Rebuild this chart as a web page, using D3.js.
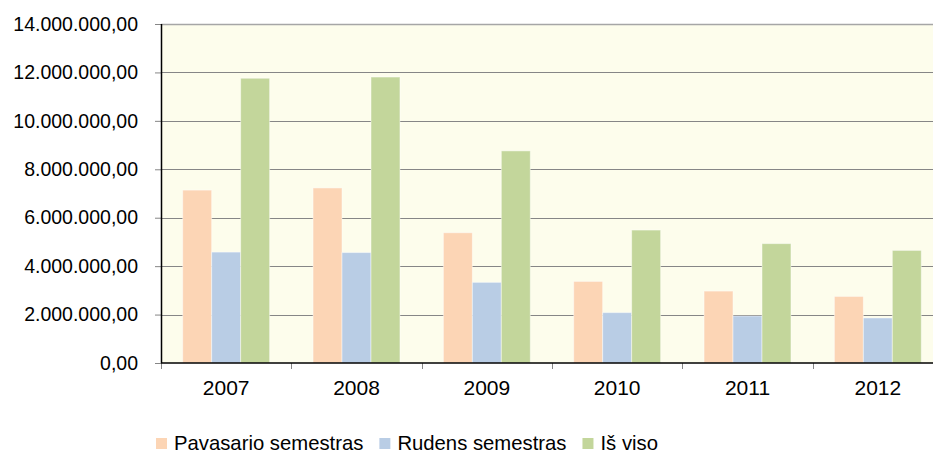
<!DOCTYPE html>
<html>
<head>
<meta charset="utf-8">
<script src="https://cdn.jsdelivr.net/npm/d3@7"></script>
<style>
  html, body { margin: 0; padding: 0; background: #fff; overflow: hidden; }
  svg { display: block; font-family: "Liberation Sans", Arial, sans-serif; }
</style>
</head>
<body>
<div id="chart"></div>
<script>
var years = ["2007", "2008", "2009", "2010", "2011", "2012"];
var seriesNames = ["Pavasario semestras", "Rudens semestras", "Iš viso"];
var pavasario = [7140000, 7230000, 5380000, 3370000, 2970000, 2750000];
var rudens = [4580000, 4560000, 3330000, 2080000, 1940000, 1860000];
var isViso = [11760000, 11810000, 8760000, 5490000, 4930000, 4650000];
var yTicks = [0, 2000000, 4000000, 6000000, 8000000, 10000000, 12000000, 14000000];
var colors = ["#fcd5b5", "#b9cde5", "#c3d69b"];

var W = 933, H = 455,
    margin = {top: 24, right: -10, bottom: 92, left: 161},
    width = W - margin.left - margin.right,
    height = H - margin.top - margin.bottom;

var svg = d3.select("#chart").append("svg")
    .attr("width", W)
    .attr("height", H);

var g = svg.append("g")
    .attr("transform", "translate(" + margin.left + "," + margin.top + ")");

var x0 = d3.scaleBand()
    .domain(years)
    .range([0, width])
    .paddingInner(0.333)
    .paddingOuter(0.1665);

var x1 = d3.scaleBand()
    .domain(d3.range(3))
    .range([0, x0.bandwidth()]);

var y = d3.scaleLinear()
    .domain([0, 14000000])
    .range([height, 0]);

// number format like 12.000.000,00
var fmt = d3.formatLocale({decimal: ",", thousands: ".", grouping: [3], currency: ["", ""]}).format(",.2f");

g.append("rect")
    .attr("width", width)
    .attr("height", height)
    .attr("fill", "#fdfdec");

// gridlines
g.selectAll(".grid")
    .data(yTicks.slice(1))
    .enter().append("line")
    .attr("x1", 0)
    .attr("x2", width)
    .attr("y1", function(d) { return Math.round(y(d)) + 0.5; })
    .attr("y2", function(d) { return Math.round(y(d)) + 0.5; })
    .attr("stroke", function(d, i) { return d === 14000000 ? "#a6a6a6" : "#868686"; })
    .attr("stroke-width", function(d) { return d === 14000000 ? 1.5 : 1; });

var all = [pavasario, rudens, isViso];

var groups = g.selectAll(".year")
    .data(years)
    .enter().append("g")
    .attr("transform", function(d) { return "translate(" + x0(d) + ",0)"; });

groups.selectAll("rect")
    .data(function(d, i) { return all.map(function(s, k) { return {k: k, v: s[i]}; }); })
    .enter().append("rect")
    .attr("x", function(d) { return x1(d.k); })
    .attr("width", x1.bandwidth())
    .attr("y", function(d) { return y(d.v); })
    .attr("height", function(d) { return height - y(d.v); })
    .attr("fill", function(d) { return colors[d.k]; })
    .attr("stroke", "rgba(255,255,255,0.45)")
    .attr("stroke-width", 1);

// y axis
var yAxis = d3.axisLeft(y)
    .tickValues(yTicks)
    .tickSize(6)
    .tickPadding(17)
    .tickFormat(fmt);

var ya = g.append("g").call(yAxis);
ya.select(".domain").remove();
ya.selectAll(".tick line").attr("stroke", "#868686");
ya.selectAll(".tick text")
    .attr("fill", "#000")
    .style("font-size", "19.5px")
    .style("font-family", "'Liberation Sans', Arial, sans-serif");

g.append("line")
    .attr("x1", 0.5).attr("x2", 0.5)
    .attr("y1", 0).attr("y2", height)
    .attr("stroke", "#000").attr("stroke-width", 1.5);

// x axis
var xa = g.append("g")
    .attr("transform", "translate(0," + height + ")");

xa.selectAll(".sep")
    .data(years.concat(["end"]))
    .enter().append("line")
    .attr("x1", function(d, i) { return Math.round(i * x0.step()) + 0.5; })
    .attr("x2", function(d, i) { return Math.round(i * x0.step()) + 0.5; })
    .attr("y1", 0).attr("y2", 6)
    .attr("stroke", "#868686");

xa.append("line")
    .attr("x1", 0).attr("x2", width)
    .attr("y1", 0).attr("y2", 0)
    .attr("stroke", "#000").attr("stroke-width", 1.5);

xa.selectAll(".lbl")
    .data(years)
    .enter().append("text")
    .attr("x", function(d) { return x0(d) + x0.bandwidth() / 2; })
    .attr("y", 32)
    .attr("text-anchor", "middle")
    .attr("fill", "#000")
    .style("font-size", "21px")
    .text(function(d) { return d; });

// legend
var legend = svg.append("g").attr("transform", "translate(156,450)");
var lx = 0;
seriesNames.forEach(function(name, i) {
    var item = legend.append("g").attr("transform", "translate(" + lx + ",0)");
    item.append("rect")
        .attr("x", 0).attr("y", -12)
        .attr("width", 11).attr("height", 11)
        .attr("fill", colors[i]);
    var t = item.append("text")
        .attr("x", 18).attr("y", 0)
        .attr("fill", "#000")
        .style("font-size", "20.3px")
        .text(name);
    lx += 18 + t.node().getComputedTextLength() + 16;
});
</script>
</body>
</html>
